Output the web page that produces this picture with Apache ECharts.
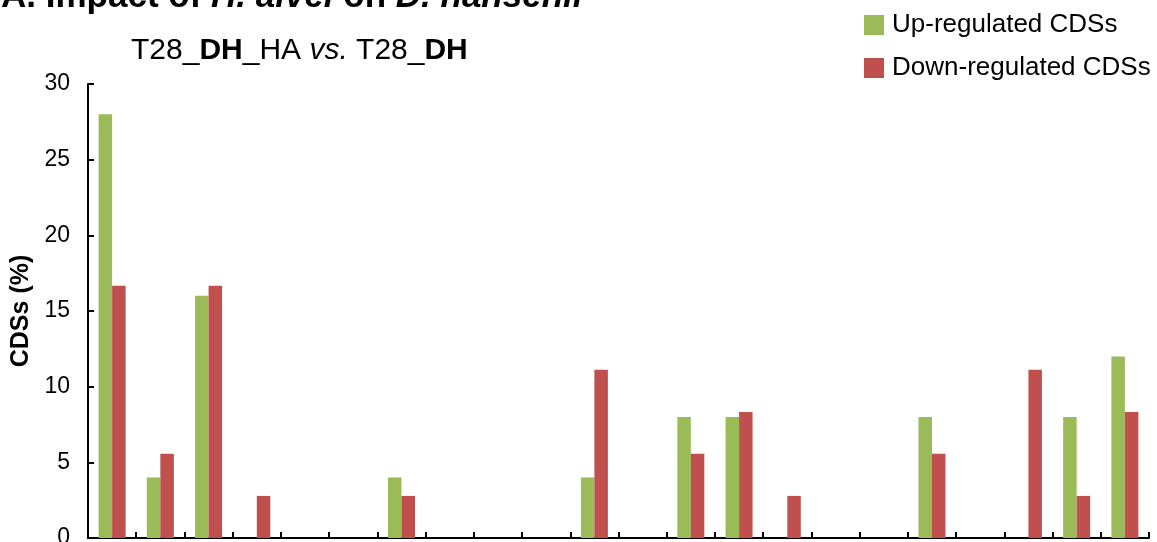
<!DOCTYPE html>
<html>
<head>
<meta charset="utf-8">
<script src="https://cdn.jsdelivr.net/npm/echarts@6/dist/echarts.min.js"></script>
<style>
html,body{margin:0;padding:0;background:#fff;}
#chart{width:1157px;height:542px;}
</style>
</head>
<body>
<div id="chart"></div>
<script>
// Data
const categories = ['C1','C2','C3','C4','C5','C6','C7','C8','C9','C10','C11','C12','C13','C14','C15','C16','C17','C18','C19','C20','C21','C22'];
const upRegulated   = [28, 4, 16, 0, 0, 0, 4, 0, 0, 0, 4, 0, 8, 8, 0, 0, 0, 8, 0, 0, 8, 12];
const downRegulated = [16.67, 5.56, 16.67, 2.78, 0, 0, 2.78, 0, 0, 0, 11.11, 0, 5.56, 8.33, 2.78, 0, 0, 5.56, 0, 11.11, 2.78, 8.33];
const yTicks = [0, 5, 10, 15, 20, 25, 30];
const seriesNames = ['Up-regulated CDSs', 'Down-regulated CDSs'];

const FONT = '"Liberation Sans", Arial, Helvetica, sans-serif';
const chart = echarts.init(document.getElementById('chart'), null, {renderer: 'canvas'});

chart.setOption({
  animation: false,
  backgroundColor: '#ffffff',
  textStyle: {fontFamily: FONT, color: '#000'},
  title: [
    {
      text: '{b|A. Impact of }{bi|H. alvei}{b| on }{bi|D. hansenii}',
      left: -4,
      top: -25,
      textStyle: {
        fontWeight: 'bold',
        rich: {
          b:  {fontFamily: FONT, fontSize: 35, fontWeight: 'bold', color: '#000'},
          bi: {fontFamily: FONT, fontSize: 35, fontWeight: 'bold', fontStyle: 'italic', color: '#000'}
        }
      }
    },
    {
      text: '{n|T28_}{b|DH}{n|_HA }{i|vs.}{n| T28_}{b|DH}',
      left: 126,
      top: 31,
      textStyle: {
        fontWeight: 'normal',
        rich: {
          n: {fontFamily: FONT, fontSize: 30, fontWeight: 'normal', color: '#000'},
          b: {fontFamily: FONT, fontSize: 30, fontWeight: 'bold', color: '#000'},
          i: {fontFamily: FONT, fontSize: 30, fontWeight: 'normal', fontStyle: 'italic', color: '#000'}
        }
      }
    }
  ],
  legend: {
    data: seriesNames,
    orient: 'vertical',
    left: 859,
    top: 7,
    icon: 'rect',
    itemWidth: 20,
    itemHeight: 20,
    itemGap: 17,
    textStyle: {fontFamily: FONT, fontSize: 26, color: '#000', padding: [0, 0, 0, 3]},
    selectedMode: false
  },
  grid: {left: 88, right: 8, top: 84, bottom: 4, containLabel: false, outerBoundsMode: 'none'},
  xAxis: {
    type: 'category',
    data: categories,
    boundaryGap: true,
    axisLine: {show: true, lineStyle: {color: '#000', width: 2}},
    axisTick: {show: true, inside: true, length: 6, lineStyle: {color: '#000', width: 2}, alignWithLabel: false},
    axisLabel: {show: false},
    splitLine: {show: false}
  },
  yAxis: {
    type: 'value',
    min: yTicks[0],
    max: yTicks[yTicks.length - 1],
    interval: 5,
    name: 'CDSs (%)',
    nameLocation: 'middle',
    nameGap: 53,
    nameTextStyle: {fontFamily: FONT, fontSize: 25, fontWeight: 'bold', color: '#000'},
    axisLine: {show: true, lineStyle: {color: '#000', width: 2}},
    axisTick: {show: true, inside: true, length: 6, lineStyle: {color: '#000', width: 2}},
    axisLabel: {fontFamily: FONT, fontSize: 23, color: '#000', margin: 18},
    splitLine: {show: false}
  },
  series: [
    {
      name: seriesNames[0],
      type: 'bar',
      data: upRegulated,
      barWidth: 13.5,
      barGap: '0%',
      itemStyle: {color: '#9BBB59'}
    },
    {
      name: seriesNames[1],
      type: 'bar',
      data: downRegulated,
      barWidth: 13.5,
      barGap: '0%',
      itemStyle: {color: '#C0504D'}
    }
  ]
});
</script>
</body>
</html>
